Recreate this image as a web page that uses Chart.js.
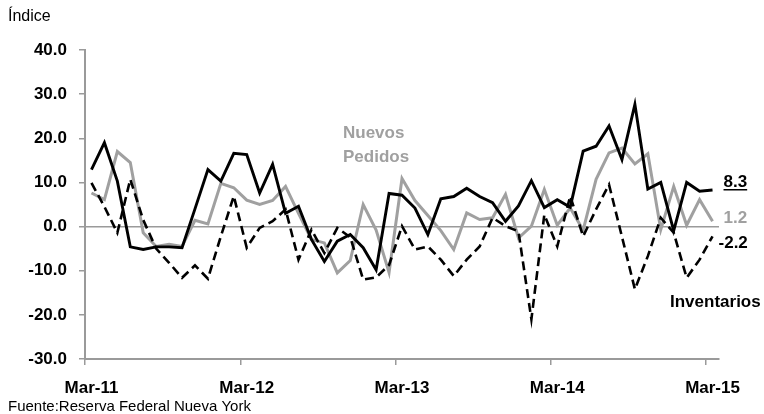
<!DOCTYPE html>
<html>
<head>
<meta charset="utf-8">
<script src="https://cdn.jsdelivr.net/npm/chart.js@4.4.1/dist/chart.umd.min.js"></script>
<style>
  html, body { margin: 0; padding: 0; background: #fff; }
  #wrap { width: 764px; height: 414px; position: relative; }
</style>
</head>
<body>
<div id="wrap"><canvas id="empireChart"></canvas></div>
<script>
const months = [
  'Mar-11','Abr-11','May-11','Jun-11','Jul-11','Ago-11','Sep-11','Oct-11','Nov-11','Dic-11','Ene-12','Feb-12',
  'Mar-12','Abr-12','May-12','Jun-12','Jul-12','Ago-12','Sep-12','Oct-12','Nov-12','Dic-12','Ene-13','Feb-13',
  'Mar-13','Abr-13','May-13','Jun-13','Jul-13','Ago-13','Sep-13','Oct-13','Nov-13','Dic-13','Ene-14','Feb-14',
  'Mar-14','Abr-14','May-14','Jun-14','Jul-14','Ago-14','Sep-14','Oct-14','Nov-14','Dic-14','Ene-15','Feb-15',
  'Mar-15'
]
const shownTicks = ['Mar-11', 'Mar-12', 'Mar-13', 'Mar-14', 'Mar-15']

// indice general (black line)
const general = [
  12.9, 19.0, 10.3, -4.6, -5.2, -4.6, -4.6, -4.8, 4.0, 12.9, 10.3, 16.6,
  16.3, 7.6, 14.1, 3.0, 4.6, -2.9, -7.9, -3.3, -1.8, -4.8, -9.8, 7.5,
  7.1, 4.2, -1.8, 6.3, 6.8, 8.7, 6.8, 5.4, 1.2, 4.7, 10.4, 4.3,
  6.1, 4.4, 17.1, 18.2, 22.8, 15.2, 27.7, 8.5, 10.0, -0.9, 10.0, 8.0,
  8.3
]
const nuevosPedidos = [
  7.6, 6.1, 17.0, 14.5, -1.4, -4.5, -4.0, -4.5, 1.4, 0.6, 9.8, 8.8,
  6.0, 5.0, 5.9, 9.1, 3.0, -2.9, -3.7, -10.5, -7.7, 5.0, -0.8, -10.4,
  10.9, 5.9, 2.5, -0.9, -5.2, 3.1, 1.6, 2.0, 7.3, -2.6, 0.1, 8.4,
  0.3, 4.2, -0.8, 10.7, 16.7, 17.8, 14.2, 16.5, -0.7, 9.1, 0.3, 6.1,
  1.2
]
const inventarios = [
  9.9, 4.5, -1.4, 10.7, 1.5, -5.0, -8.2, -11.6, -8.8, -11.8, -2.2, 6.9,
  -4.8, -0.3, 1.2, 3.9, -7.5, -0.7, -6.0, -0.3, -2.4, -12.0, -11.5, -8.7,
  0.1, -5.2, -4.5, -7.5, -11.2, -7.5, -4.5, 2.0, 0.1, -1.1, -21.0, 2.7,
  -4.5, 6.9, -2.2, 3.9, 9.5, -2.3, -14.2, -6.7, 2.0, -1.4, -11.6, -7.5,
  -2.2
]

const gray = '#a0a0a0'
const axisGray = '#9a9a9a'
const fontFamily = '"Liberation Sans", Arial, sans-serif'

Chart.defaults.font.family = fontFamily
Chart.defaults.color = '#000'

const textPlugin = {
  id: 'textPlugin',
  afterDraw(chart) {
    const ctx = chart.ctx
    const x = chart.scales.x
    const last = months.length - 1
    const lx = x.getPixelForValue(last) + 11
    ctx.save()
    ctx.textBaseline = 'alphabetic'
    ctx.textAlign = 'left'

    ctx.font = '16px ' + fontFamily
    ctx.fillStyle = '#000'
    ctx.fillText('Índice', 8, 21)
    ctx.font = '15px ' + fontFamily
    ctx.fillText('Fuente:Reserva Federal Nueva York', 8, 411)

    ctx.font = 'bold 17px ' + fontFamily
    ctx.fillStyle = gray
    ctx.fillText('Nuevos', 343, 138)
    ctx.fillText('Pedidos', 343, 162)

    // end values
    ctx.fillStyle = '#000'
    const t1 = general[last].toFixed(1)
    ctx.fillText(t1, lx, 187)
    const w1 = ctx.measureText(t1).width
    ctx.fillRect(lx, 189, w1, 1.5)
    ctx.fillStyle = gray
    ctx.fillText(nuevosPedidos[last].toFixed(1), lx, 223)
    ctx.fillStyle = '#000'
    ctx.fillText(inventarios[last].toFixed(1), lx - 5, 248)
    ctx.fillText('Inventarios', 670, 307)
    ctx.restore()
  }
}

const empireChart = new Chart(document.getElementById('empireChart'), {
  type: 'line',
  data: {
    labels: months,
    datasets: [
      { label: 'General', data: general, borderColor: '#000', borderWidth: 2.9 },
      { label: 'Inventarios', data: inventarios, borderColor: '#000', borderWidth: 2.6, borderDash: [9, 5] },
      { label: 'Nuevos Pedidos', data: nuevosPedidos, borderColor: gray, borderWidth: 3 }
    ]
  },
  options: {
    responsive: true,
    maintainAspectRatio: false,
    animation: false,
    elements: { point: { radius: 0, hoverRadius: 0 }, line: { tension: 0 } },
    layout: { padding: { top: 50, right: 45, left: 0, bottom: 0 } },
    plugins: { legend: { display: false }, tooltip: { enabled: false } },
    scales: {
      x: {
        offset: true,
        afterFit: (scale) => { scale.height = 55 },
        border: { color: axisGray, width: 2 },
        grid: {
          offset: true,
          drawOnChartArea: false,
          tickLength: 6,
          lineWidth: 1.5,
          tickColor: (c) => (c.index % 12 === 0 ? axisGray : 'rgba(0,0,0,0)')
        },
        ticks: {
          autoSkip: false,
          maxRotation: 0,
          padding: 13,
          font: { size: 17, weight: 'bold' },
          callback: function (value, index) {
            const lab = months[index]
            return shownTicks.includes(lab) ? lab : ''
          }
        }
      },
      y: {
        min: -30,
        max: 40,
        afterFit: (scale) => { scale.width = 85 },
        border: { color: axisGray, width: 2 },
        grid: {
          tickLength: 6,
          lineWidth: 1.5,
          tickColor: axisGray,
          color: (c) => (c.tick && c.tick.value === 0 ? axisGray : 'rgba(0,0,0,0)')
        },
        ticks: {
          stepSize: 10,
          padding: 12,
          font: { size: 17, weight: 'bold' },
          callback: (v) => Number(v).toFixed(1)
        }
      }
    }
  },
  plugins: [textPlugin]
})
</script>
</body>
</html>
